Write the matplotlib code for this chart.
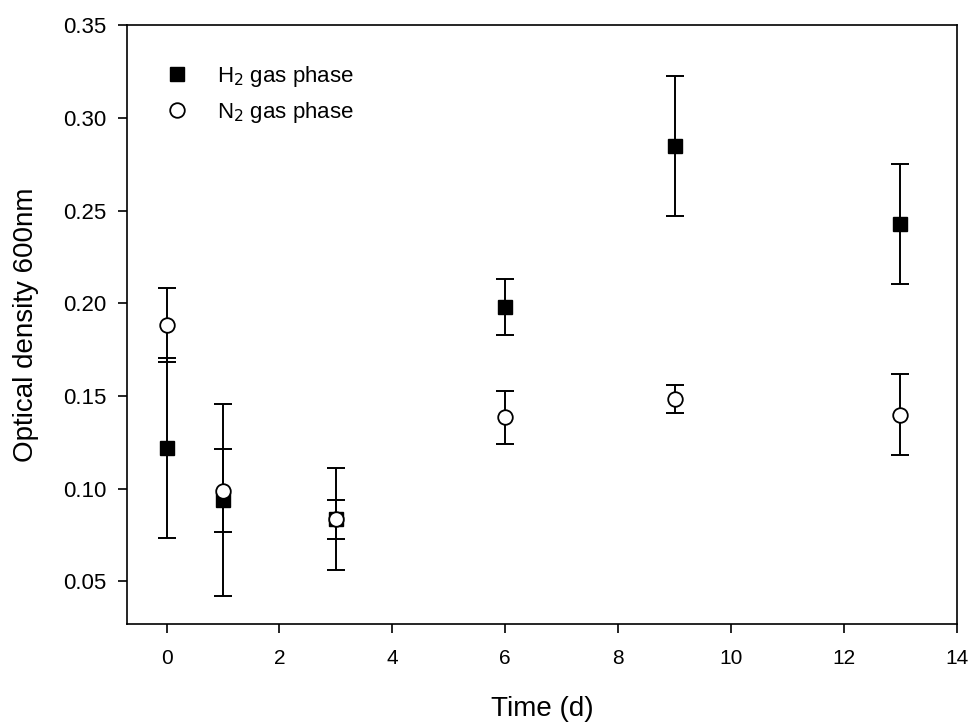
import matplotlib.pyplot as plt
from matplotlib.ticker import MultipleLocator, FormatStrFormatter

plt.rcParams['font.family'] = ['Liberation Sans', 'DejaVu Sans']

days = [0, 1, 3, 6, 9, 13]
h2_od = [0.122, 0.094, 0.0835, 0.198, 0.285, 0.243]
h2_err = [0.0485, 0.052, 0.0275, 0.0152, 0.038, 0.0325]
n2_od = [0.1885, 0.099, 0.0835, 0.1385, 0.1485, 0.140]
n2_err = [0.020, 0.0225, 0.0105, 0.0145, 0.0077, 0.022]

fig = plt.figure(figsize=(9.74, 7.22), dpi=100)
ax = fig.add_axes([0.1304, 0.1357, 0.852, 0.829])

ax.errorbar(days, h2_od, yerr=h2_err, fmt='none', ecolor='black',
            elinewidth=1.4, capsize=6.5, capthick=1.4, zorder=2)
ax.errorbar(days, n2_od, yerr=n2_err, fmt='none', ecolor='black',
            elinewidth=1.4, capsize=6.5, capthick=1.4, zorder=2)
h2_line, = ax.plot(days, h2_od, 's', color='black', markersize=9.4,
                   linestyle='none', zorder=3, label='H$_2$ gas phase')
n2_line, = ax.plot(days, n2_od, 'o', markerfacecolor='white', markeredgecolor='black',
                   markeredgewidth=1.3, markersize=10.5, linestyle='none', zorder=4,
                   label='N$_2$ gas phase')

ax.set_xlim(-0.7, 14)
ax.set_ylim(0.027, 0.35)
ax.xaxis.set_major_locator(MultipleLocator(2))
ax.yaxis.set_major_locator(MultipleLocator(0.05))
ax.yaxis.set_major_formatter(FormatStrFormatter('%.2f'))
ax.tick_params(direction='out', length=6.5, width=1.2, top=False, right=False)
ax.tick_params(axis='x', labelsize=15, pad=11.5)
ax.tick_params(axis='y', labelsize=16, pad=8.5)
for s in ax.spines.values():
    s.set_linewidth(1.2)

ax.set_xlabel('Time (d)', fontsize=20, labelpad=20)
ax.set_ylabel('Optical density 600nm', fontsize=20, labelpad=17)

ax.legend(handles=[h2_line, n2_line], loc='upper left', frameon=False,
          fontsize=16, handletextpad=0.78, borderaxespad=0, labelspacing=0.5,
          bbox_to_anchor=(0.0228, 0.951))

fig.savefig('out.png', dpi=100)
